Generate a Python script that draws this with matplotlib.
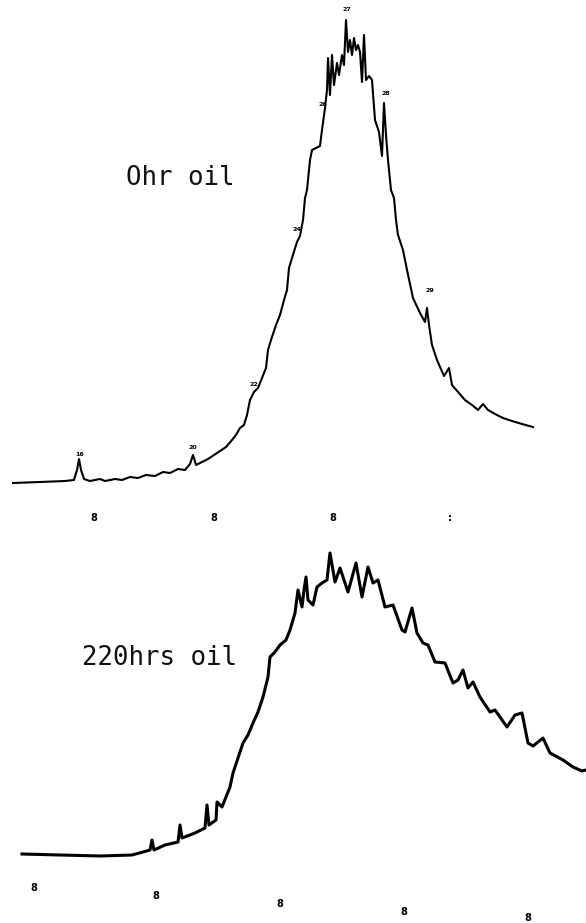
import numpy as np
import matplotlib
matplotlib.use("Agg")
import matplotlib.pyplot as plt

# fresh oil trace: scan position vs detector response above baseline
fresh_x = [13, 40, 65, 74, 77, 79, 81, 84, 90, 100, 105, 115, 122, 130, 138, 146, 155, 163,
           170, 178, 185, 190, 193, 196, 202, 208, 214, 220, 226, 232, 236, 240, 244, 247,
           250, 254, 258, 262, 266, 268, 271, 276, 280, 284, 287, 289, 292, 297, 300, 303,
           305, 307, 310, 312, 316, 320, 322, 325, 327, 328, 330, 332, 334, 337, 339, 342,
           344, 346, 348, 350, 352, 354, 356, 358, 360, 362, 364, 366, 369, 372, 375, 379,
           382, 384, 386, 388, 391, 394, 396, 398, 403, 407, 413, 420, 425, 427, 429, 432,
           437, 444, 449, 452, 458, 465, 472, 478, 483, 488, 495, 503, 512, 522, 533]
fresh_y = [0, 1, 2, 3, 13, 24, 13, 4, 2, 4, 2, 4, 3, 6, 5, 8, 7, 11,
           10, 14, 13, 19, 28, 18, 21, 24, 28, 32, 36, 43, 48, 55, 58, 68,
           83, 91, 95, 105, 115, 133, 143, 158, 168, 183, 193, 215, 225, 241, 247, 263,
           285, 293, 323, 333, 335, 337, 353, 375, 393, 425, 388, 428, 398, 420, 408, 428,
           418, 463, 431, 443, 428, 445, 433, 438, 431, 401, 448, 403, 407, 403, 363, 351,
           327, 380, 348, 323, 293, 285, 263, 248, 233, 213, 185, 170, 161, 175, 158, 138,
           123, 107, 115, 98, 91, 83, 78, 73, 79, 73, 69, 65, 62, 59, 56]

# 220 h oil trace
aged_x = [22, 60, 100, 132, 143, 150, 152, 154, 165, 178, 180, 182, 195, 205, 207, 209,
          216, 217, 222, 230, 233, 243, 248, 253, 258, 263, 268, 270, 275, 280, 286, 290,
          295, 298, 302, 304, 306, 308, 313, 317, 322, 327, 330, 335, 340, 348, 356, 362,
          368, 373, 378, 385, 393, 402, 405, 412, 417, 423, 428, 435, 445, 453, 458, 463,
          468, 473, 480, 490, 495, 507, 515, 522, 528, 533, 543, 550, 563, 573, 582, 586]
aged_y = [0, -1, -2, -1, 2, 4, 14, 4, 9, 12, 29, 16, 21, 26, 49, 29,
          34, 52, 47, 67, 81, 111, 119, 131, 142, 157, 177, 197, 202, 209, 214, 224,
          241, 264, 247, 264, 277, 254, 249, 267, 271, 274, 301, 272, 286, 262, 291, 257,
          287, 271, 274, 247, 249, 224, 222, 246, 221, 211, 209, 192, 191, 171, 174, 184,
          166, 172, 157, 142, 144, 127, 139, 141, 111, 108, 116, 101, 94, 87, 83, 84]

# peak numbers written above the fresh oil trace
peak_x = [80, 193, 254, 297, 323, 347, 386, 430]
peak_y = [26, 33, 96, 251, 376, 471, 387, 190]
peak_labels = ["16", "20", "22", "24", "26", "27", "28", "29"]

# time marks printed under each trace
fresh_mark_x = [94, 214, 333, 450]
fresh_mark_y = [-35, -35, -35, -35]
fresh_marks = ["8", "8", "8", ":"]
aged_mark_x = [34, 156, 280, 404, 528]
aged_mark_y = [-34, -42, -50, -58, -64]
aged_marks = ["8", "8", "8", "8", "8"]

W, H = 586, 923
fig = plt.figure(figsize=(W / 100, H / 100), dpi=100)
fig.patch.set_facecolor("white")

ax_top = fig.add_axes([0, 423 / H, 1, 500 / H])
ax_bot = fig.add_axes([0, 0, 1, 423 / H])
ax_top.set_xlim(0, W)
ax_top.set_ylim(-17, 483)
ax_bot.set_xlim(0, W)
ax_bot.set_ylim(-69, 354)

for ax in (ax_top, ax_bot):
    ax.axis("off")

ax_top.plot(fresh_x, fresh_y, color="black", lw=1.5, solid_joinstyle="round")
ax_bot.plot(aged_x, aged_y, color="black", lw=2.2, solid_joinstyle="round")

for x, y, s in zip(peak_x, peak_y, peak_labels):
    ax_top.text(x, y, s, fontsize=4.5, fontweight="bold", ha="center", va="bottom",
                family="DejaVu Sans")

for x, y, s in zip(fresh_mark_x, fresh_mark_y, fresh_marks):
    ax_top.text(x, y, s, fontsize=7, fontweight="bold", ha="center", va="center")
for x, y, s in zip(aged_mark_x, aged_mark_y, aged_marks):
    ax_bot.text(x, y, s, fontsize=7, fontweight="bold", ha="center", va="center")

ax_top.text(126, 298, "Ohr oil", fontsize=18.5, family="DejaVu Sans Mono",
            ha="left", va="baseline", color="#111111")
ax_bot.text(82, 189, "220hrs oil", fontsize=18.5, family="DejaVu Sans Mono",
            ha="left", va="baseline", color="#111111")

fig.savefig("out.png", dpi=100, facecolor="white")
